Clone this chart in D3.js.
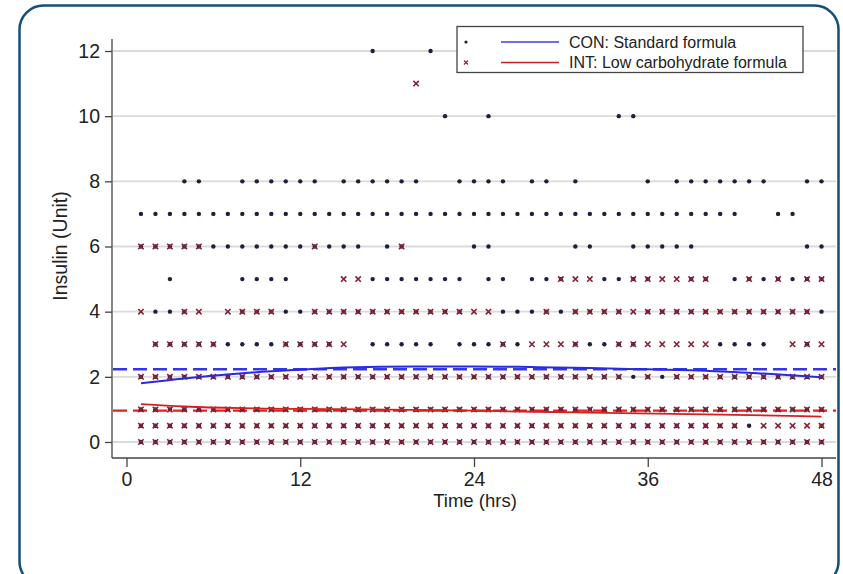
<!DOCTYPE html>
<html>
<head>
<meta charset="utf-8">
<script src="https://cdn.jsdelivr.net/npm/d3@7"></script>
<style>
  body { margin: 0; background: #fff; }
  text { font-family: "Liberation Sans", Arial, sans-serif; fill: #222; }
</style>
</head>
<body>
<svg id="chart" width="843" height="574"></svg>
<script>
// hours at which insulin was recorded
var hours = [1,2,3,4,5,6,7,8,9,10,11,12,13,14,15,16,17,18,19,20,21,22,23,24,
             25,26,27,28,29,30,31,32,33,34,35,36,37,38,39,40,41,42,43,44,45,46,47,48];

// CON (standard formula) - hours with a point at each insulin level
var con12 = [17, 21];
var con10 = [22, 25, 34, 35];
var con8  = [4,5,8,9,10,11,12,13,15,16,17,18,19,20,23,24,25,26,28,29,31,36,38,39,40,41,42,43,44,47,48];
var con7  = [1,2,3,4,5,6,7,8,9,10,11,12,13,14,15,16,17,18,19,20,21,22,23,24,25,26,27,28,29,30,31,32,33,34,35,36,37,38,39,40,41,42,45,46];
var con6  = [1,2,3,4,5,6,7,8,9,10,11,12,13,14,15,16,18,19,24,25,31,32,35,36,37,38,39,47,48];
var con5  = [3,8,9,10,11,17,18,19,20,21,22,23,25,26,28,29,30,33,34,35,36,39,40,42,43,44,45,46,47,48];
var con4  = [2,3,4,8,9,10,11,12,13,14,15,16,17,18,19,20,21,22,23,26,27,28,29,30,31,32,33,34,36,37,38,39,40,41,42,43,44,45,46,47,48];
var con3  = [2,3,4,5,6,7,8,9,10,11,12,13,14,17,18,19,20,21,23,24,25,26,27,31,32,33,34,35,41,42,43,44,47];
var con2  = hours;
var con1  = hours;
var con05 = [1,2,3,4,5,6,7,8,9,10,11,12,13,14,15,16,17,18,19,20,21,22,23,24,25,26,27,28,29,30,31,32,33,34,35,36,37,38,39,40,41,42,43,48];
var con0  = hours;

// INT (low carbohydrate formula)
var int11 = [20];
var int6  = [1,2,3,4,5,13,19];
var int5  = [15,16,30,31,32,35,36,37,38,39,40,43,45,47,48];
var int4  = [1,4,5,7,8,9,10,13,14,15,16,17,18,19,20,21,22,23,24,25,29,31,32,33,34,35,36,37,38,39,40,41,42,43,44,45,46,47];
var int3  = [2,3,4,5,6,11,12,13,14,15,26,28,29,30,31,34,35,36,37,38,39,40,46,47,48];
var int2  = [1,2,3,4,5,6,7,8,9,10,11,12,13,14,15,16,17,18,19,20,21,22,23,24,25,26,27,28,29,30,31,32,33,34,36,38,39,40,41,42,43,44,45,46,47,48];
var int1  = hours;
var int05 = [1,2,3,4,5,6,7,8,9,10,11,12,13,14,15,16,17,18,19,20,21,22,23,24,25,26,27,28,29,30,31,32,33,34,35,36,37,38,39,40,41,42,44,45,46,47,48];
var int0  = hours;

// fitted curves and group means
var conFitHours = [1, 4, 8, 12, 15, 20, 24, 28, 32, 36, 40, 44, 48];
var conFit      = [1.80, 1.95, 2.11, 2.22, 2.29, 2.32, 2.32, 2.30, 2.27, 2.23, 2.19, 2.10, 1.99];
var intFitHours = [1, 4, 8, 15, 24, 32, 40, 48];
var intFit      = [1.16, 1.09, 1.04, 1.01, 0.96, 0.90, 0.85, 0.78];
var conMean = 2.23;
var intMean = 0.96;

var xTicks = [0, 12, 24, 36, 48];
var yTicks = [0, 2, 4, 6, 8, 10, 12];

var conLevels = [[12, con12], [10, con10], [8, con8], [7, con7], [6, con6], [5, con5], [4, con4],
                 [3, con3], [2, con2], [1, con1], [0.5, con05], [0, con0]];
var intLevels = [[11, int11], [6, int6], [5, int5], [4, int4], [3, int3], [2, int2],
                 [1, int1], [0.5, int05], [0, int0]];

function toPoints(levels) {
  var pts = [];
  levels.forEach(function(l) {
    l[1].forEach(function(h) { pts.push({h: h, v: l[0]}); });
  });
  return pts;
}
var conPts = toPoints(conLevels);
var intPts = toPoints(intLevels);

var svg = d3.select("#chart");

// card frame
svg.append("rect")
    .attr("x", 19.5).attr("y", 5.5)
    .attr("width", 819).attr("height", 580)
    .attr("rx", 24)
    .attr("fill", "#fff")
    .attr("stroke", "#134f77")
    .attr("stroke-width", 2.5);

var x = d3.scaleLinear().domain([-1, 49]).range([112, 836]);
var y = d3.scaleLinear().domain([0, 12]).range([442, 51]);

// grid
svg.append("g").selectAll("line")
    .data(yTicks)
    .enter().append("line")
      .attr("x1", 113).attr("x2", 836)
      .attr("y1", d => y(d)).attr("y2", d => y(d))
      .attr("stroke", "#dadada")
      .attr("stroke-width", 1.8);

// axes
var yAxis = svg.append("g")
    .attr("transform", "translate(112,0)")
    .call(d3.axisLeft(y).tickValues(yTicks).tickSize(7).tickPadding(5));
var xAxis = svg.append("g")
    .attr("transform", "translate(0,458)")
    .call(d3.axisBottom(x).tickValues(xTicks).tickSize(9).tickPadding(5));

yAxis.select(".domain").attr("d", "M0," + 39 + "V" + 458).attr("stroke", "#444").attr("stroke-width", 1.3);
xAxis.select(".domain").attr("d", "M112,0H836").attr("stroke", "#444").attr("stroke-width", 1.3);
svg.selectAll(".tick line").attr("stroke", "#444").attr("stroke-width", 1.3);
svg.selectAll(".tick text").style("font-size", "19.5px").attr("fill", "#1e1e1e")
    .style("font-family", "'Liberation Sans', Arial, sans-serif");

svg.append("text")
    .attr("x", 475).attr("y", 507)
    .attr("text-anchor", "middle")
    .style("font-size", "18.5px")
    .text("Time (hrs)");

svg.append("text")
    .attr("transform", "translate(67,246) rotate(-90)")
    .attr("text-anchor", "middle")
    .style("font-size", "19.5px")
    .text("Insulin (Unit)");

// mean lines
svg.append("line")
    .attr("x1", 113).attr("x2", 836)
    .attr("y1", y(conMean)).attr("y2", y(conMean))
    .attr("stroke", "#3535ee").attr("stroke-width", 2.5)
    .attr("stroke-dasharray", "14,6");
svg.append("line")
    .attr("x1", 113).attr("x2", 836)
    .attr("y1", y(intMean)).attr("y2", y(intMean))
    .attr("stroke", "#e02222").attr("stroke-width", 2.3)
    .attr("stroke-dasharray", "14,6");

// markers
var xs = 2.7;
svg.append("g").selectAll("circle")
    .data(conPts)
    .enter().append("circle")
      .attr("cx", d => x(d.h)).attr("cy", d => y(d.v))
      .attr("r", 2.2)
      .attr("fill", "#1c1f3d");

svg.append("g").selectAll("path")
    .data(intPts)
    .enter().append("path")
      .attr("d", function(d) {
        var cx = x(d.h), cy = y(d.v);
        return "M" + (cx - xs) + "," + (cy - xs) + "L" + (cx + xs) + "," + (cy + xs) +
               "M" + (cx - xs) + "," + (cy + xs) + "L" + (cx + xs) + "," + (cy - xs);
      })
      .attr("stroke", "#842033")
      .attr("stroke-width", 1.6)
      .attr("fill", "none");

// fitted curves
var line = d3.line().curve(d3.curveMonotoneX);
svg.append("path")
    .attr("d", line(conFitHours.map((h, i) => [x(h), y(conFit[i])])))
    .attr("fill", "none").attr("stroke", "#2a2ae0").attr("stroke-width", 2);
svg.append("path")
    .attr("d", line(intFitHours.map((h, i) => [x(h), y(intFit[i])])))
    .attr("fill", "none").attr("stroke", "#d42020").attr("stroke-width", 1.8);

// legend
var lg = svg.append("g");
lg.append("rect")
    .attr("x", 457).attr("y", 26.5)
    .attr("width", 346).attr("height", 46)
    .attr("fill", "#fff").attr("stroke", "#444").attr("stroke-width", 1.3);

var legendItems = [
  {label: "CON: Standard formula", color: "#3b3be6", mark: "dot", yy: 42},
  {label: "INT: Low carbohydrate formula", color: "#d42020", mark: "x", yy: 62.5}
];
legendItems.forEach(function(it) {
  if (it.mark === "dot") {
    lg.append("circle").attr("cx", 466).attr("cy", it.yy).attr("r", 1.6).attr("fill", "#1c1f3d");
  } else {
    var s = 2;
    lg.append("path")
      .attr("d", "M" + (466 - s) + "," + (it.yy - s) + "L" + (466 + s) + "," + (it.yy + s) +
                 "M" + (466 - s) + "," + (it.yy + s) + "L" + (466 + s) + "," + (it.yy - s))
      .attr("stroke", "#8e2436").attr("stroke-width", 1.2);
  }
  lg.append("line")
    .attr("x1", 501).attr("x2", 559)
    .attr("y1", it.yy).attr("y2", it.yy)
    .attr("stroke", it.color).attr("stroke-width", 1.5);
  lg.append("text")
    .attr("x", 569).attr("y", it.yy + 5.5)
    .style("font-size", "16px")
    .text(it.label);
});
</script>
</body>
</html>
